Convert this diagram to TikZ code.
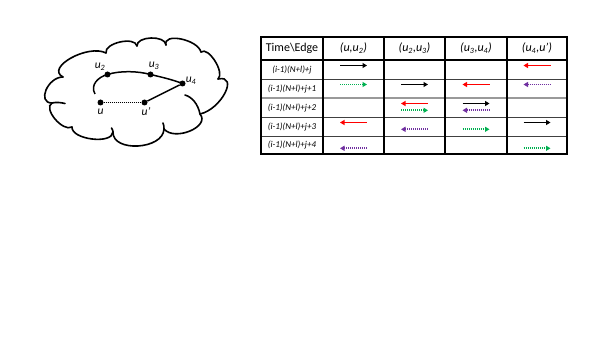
\documentclass[tikz,border=0pt]{standalone}
\usepackage{fontspec}
\setmainfont{Carlito}
\usetikzlibrary{arrows.meta,calc}
\definecolor{arrred}{HTML}{FF0000}
\definecolor{arrgreen}{HTML}{00B050}
\definecolor{arrpurple}{HTML}{7030A0}
\begin{document}
\begin{tikzpicture}[x=1pt,y=-1pt,
  cloudline/.style={line width=1.6pt, line cap=round},
  vdot/.style={circle, fill=black, inner sep=0pt, minimum size=6pt},
  glabel/.style={font=\fontsize{11.5}{11.5}\selectfont\itshape, inner sep=0pt},
  gedge/.style={line width=1.5pt},
  hdr/.style={font=\fontsize{12}{12}\selectfont, inner sep=0pt},
  hdri/.style={font=\fontsize{12}{12}\selectfont\itshape, inner sep=0pt},
  rlab/.style={font=\fontsize{9}{9}\selectfont\itshape, inner sep=0pt},
  aB/.style={line width=1.6pt, black, -{Triangle[length=4.5pt,width=5pt]}},
  aR/.style={line width=1.6pt, arrred, {Triangle[length=4.5pt,width=5pt]}-},
  aG/.style={line width=1.6pt, arrgreen, dash pattern=on 1.2pt off 0.8pt, -{Triangle[length=4.5pt,width=5pt]}},
  aP/.style={line width=1.6pt, arrpurple, dash pattern=on 1.2pt off 0.8pt, {Triangle[length=4.5pt,width=5pt]}-},
  thickgrid/.style={line width=1.8pt, black},
  thingrid/.style={line width=0.9pt, black!75},
]
\useasboundingbox (0,0) rectangle (614,345);

% ---------- cloud ----------
\foreach \sx/\sy/\ax/\ay/\ex/\ey in {
  72/127/55/119/52/103,
  52/103/46/90/63/77,
  63/77/71/58/106/53,
  106/53/120/42/137/46,
  137/46/151/38/166/45,
  166/45/181/39/201/52,
  201/52/215/61/218/79,
  218/79/225/93/200/114,
  200/114/190/131/164/129,
  164/129/138/146/113/132,
  113/132/92/139/72/127}
  \draw[cloudline] (\sx,\sy) .. controls ($0.3333*(\sx,\sy)+1.3333*(\ax,\ay)-0.6667*(\ex,\ey)$)
     and ($0.3333*(\ex,\ey)+1.3333*(\ax,\ay)-0.6667*(\sx,\sy)$) .. (\ex,\ey);
% inner stubs of the cloud
\draw[cloudline] (52,103) .. controls (56,102) and (61,102.5) .. (65,103.5);
\draw[cloudline] (185,95) .. controls (192,97) and (198,104) .. (200,114);
\draw[cloudline] (163,123) .. controls (164,125) and (164,127) .. (164,129);
\draw[cloudline] (111.5,128) .. controls (112.5,129.5) and (113,131) .. (113,132);

% ---------- graph ----------
\node[vdot] (u2) at (107.5,74.5) {};
\node[vdot] (u3) at (150.5,74.5) {};
\node[vdot] (u4) at (182.5,83.5) {};
\node[vdot] (u)  at (100.5,102.5) {};
\node[vdot] (up) at (144.5,102.5) {};
\coordinate (uend) at (95,94);

\draw[gedge] (u2.center) .. controls (120,70.5) and (138,71) .. (u3.center)
   .. controls (161,77) and (172,79.5) .. (u4.center);
\draw[gedge] (u2.center) .. controls (98,77) and (90,85) .. (uend);
\draw[gedge] (u4) -- (up);
\draw[line width=1.7pt, dash pattern=on 1.2pt off 0.8pt] (u) -- (up);

\node[glabel] (lu2) at (100,67) {u\textsubscript{2}};
\node[glabel] (lu3) at (154,66) {u\textsubscript{3}};
\node[glabel] (lu4) at (191,81) {u\textsubscript{4}};
\node[glabel] (lu)  at (100.5,112) {u};
\node[glabel] (lup) at (146,112) {u’};

% ---------- table ----------
\draw[thingrid] (261,79) -- (567,79);
\draw[thingrid] (261,117) -- (567,117);
\draw[thingrid] (261,136) -- (567,136);
\draw[line width=1.6pt, black!40] (261,98) -- (567,98);
\foreach \x in {323,384,445,507}
  \draw[thickgrid] (\x,37) -- (\x,154);
\draw[thickgrid] (261,60) -- (567,60);
\draw[line width=1.5pt] (261,37) rectangle (567,154);

\node[hdr]  (h1) at (292,48)   {Time\textbackslash Edge};
\node[hdri] (h2) at (353.5,48) {(u,u\textsubscript{2})};
\node[hdri] (h3) at (414.5,48) {(u\textsubscript{2},u\textsubscript{3})};
\node[hdri] (h4) at (476,48)   {(u\textsubscript{3},u\textsubscript{4})};
\node[hdri] (h5) at (537,48)   {(u\textsubscript{4},u’)};

\node[rlab] (r1) at (292,69.5)  {(i-1)(N+l)+j};
\node[rlab] (r2) at (292,88.5)  {(i-1)(N+l)+j+1};
\node[rlab] (r3) at (292,107.5) {(i-1)(N+l)+j+2};
\node[rlab] (r4) at (292,126.5) {(i-1)(N+l)+j+3};
\node[rlab] (r5) at (292,145)   {(i-1)(N+l)+j+4};

\foreach \x/\y/\s in {
  353.5/65.5/aB, 537/65.5/aR,
  353.5/84.5/aG, 414.5/84.5/aB, 476/84.5/aR, 537/84.5/aP,
  414.5/103.5/aR, 414.5/110.3/aG, 476/103.5/aB, 476/110.3/aP,
  353.5/122.5/aR, 414.5/129.3/aP, 476/129.3/aG, 537/122.5/aB,
  353.5/148.3/aP, 537/148.3/aG}
  \draw[\s] (\x-13.5,\y) -- (\x+13.5,\y);
\end{tikzpicture}
\end{document}
